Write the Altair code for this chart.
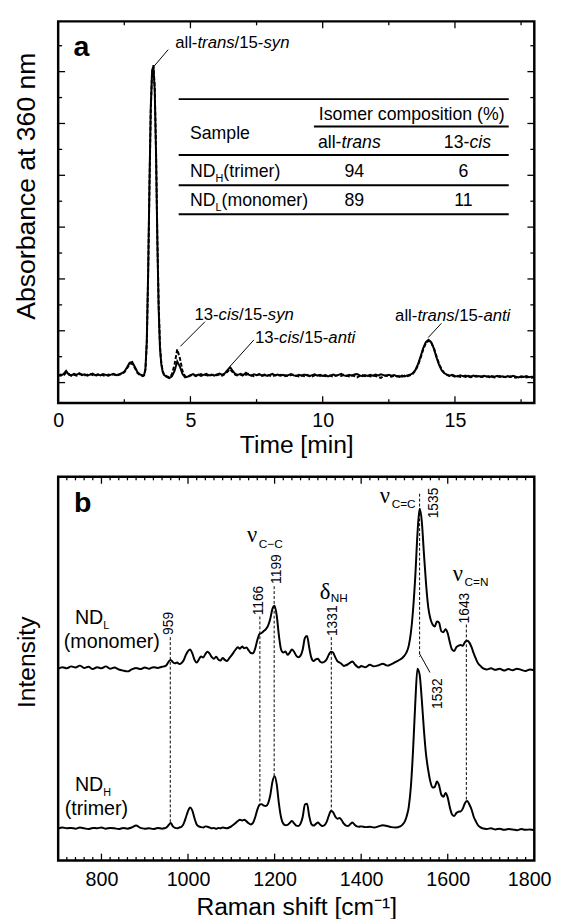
import altair as alt
import pandas as pd

SANS = "Liberation Sans, Arial, Helvetica, sans-serif"
SERIF = "Liberation Serif, Times New Roman, serif"

# ---------------- panel a : HPLC chromatograms ----------------
time_min = [
    0.0, 0.1, 0.2, 0.3, 0.4, 0.5, 0.6, 0.7, 0.8, 0.9,
    1.0, 1.1, 1.2, 1.3, 1.4, 1.5, 1.6, 1.7, 1.8, 1.9,
    2.0, 2.1, 2.2, 2.3, 2.4, 2.5, 2.6, 2.7, 2.8, 2.9,
    3.0, 3.1, 3.2,
    3.25, 3.30, 3.35, 3.40, 3.45, 3.50, 3.55, 3.60, 3.65, 3.70,
    3.75, 3.80, 3.85, 3.90, 3.95, 4.00,
    4.1, 4.2, 4.3, 4.4, 4.5, 4.6, 4.7, 4.8, 4.9, 5.0,
    5.1, 5.2, 5.3, 5.4, 5.5, 5.6, 5.7, 5.8, 5.9, 6.0,
    6.1, 6.2, 6.3, 6.4, 6.5, 6.6, 6.7, 6.8, 6.9, 7.0,
    7.1, 7.2, 7.3, 7.4, 7.5, 7.6, 7.7, 7.8, 7.9, 8.0,
    8.1, 8.2, 8.3, 8.4, 8.5, 8.6, 8.7, 8.8, 8.9, 9.0,
    9.1, 9.2, 9.3, 9.4, 9.5, 9.6, 9.7, 9.8, 9.9, 10.0,
    10.1, 10.2, 10.3, 10.4, 10.5, 10.6, 10.7, 10.8, 10.9, 11.0,
    11.1, 11.2, 11.3, 11.4, 11.5, 11.6, 11.7, 11.8, 11.9, 12.0,
    12.1, 12.2, 12.3, 12.4, 12.5, 12.6, 12.7, 12.8, 12.9, 13.0,
    13.1, 13.2, 13.3, 13.4, 13.5, 13.6, 13.7, 13.8, 13.9, 14.0,
    14.1, 14.2, 14.3, 14.4, 14.5, 14.6, 14.7, 14.8, 14.9, 15.0,
    15.1, 15.2, 15.3, 15.4, 15.5, 15.6, 15.7, 15.8, 15.9, 16.0,
    16.1, 16.2, 16.3, 16.4, 16.5, 16.6, 16.7, 16.8, 16.9, 17.0,
    17.1, 17.2, 17.3, 17.4, 17.5, 17.6, 17.7, 17.8, 17.9, 18.0,
]
abs_trimer = [
    0.30, 0.27, 0.33, 0.45, 0.31, 0.28, 0.34, 0.30, 0.36, 0.29,
    0.32, 0.27, 0.31, 0.35, 0.29, 0.32, 0.28, 0.33, 0.30, 0.27,
    0.31, 0.34, 0.29, 0.32, 0.36, 0.42, 0.58, 0.76, 0.80, 0.60,
    0.40, 0.31, 0.28,
    0.30, 0.55, 1.60, 4.20, 7.60, 10.60, 12.00, 12.20, 11.30, 8.80,
    5.40, 2.80, 1.30, 0.70, 0.42, 0.30,
    0.22, 0.17, 0.24, 0.45, 0.82, 0.62, 0.33, 0.20, 0.23, 0.29,
    0.33, 0.27, 0.31, 0.26, 0.30, 0.34, 0.28, 0.31, 0.27, 0.32,
    0.35, 0.30, 0.36, 0.48, 0.60, 0.45, 0.33, 0.30, 0.34, 0.29,
    0.38, 0.31, 0.27, 0.32, 0.29, 0.33, 0.28, 0.31, 0.26, 0.30,
    0.34, 0.28, 0.31, 0.27, 0.30, 0.25, 0.29, 0.33, 0.28, 0.26,
    0.30, 0.27, 0.31, 0.28, 0.25, 0.29, 0.32, 0.27, 0.30, 0.26,
    0.29, 0.24, 0.28, 0.31, 0.27, 0.30, 0.34, 0.28, 0.26, 0.30,
    0.27, 0.31, 0.33, 0.28, 0.25, 0.29, 0.26, 0.30, 0.27, 0.31,
    0.28, 0.32, 0.29, 0.26, 0.30, 0.27, 0.29, 0.25, 0.22, 0.27,
    0.24, 0.28, 0.30, 0.36, 0.48, 0.70, 1.00, 1.33, 1.56, 1.65,
    1.56, 1.32, 0.98, 0.68, 0.47, 0.36, 0.31, 0.27, 0.30, 0.26,
    0.24, 0.28, 0.25, 0.22, 0.26, 0.24, 0.27, 0.23, 0.25, 0.22,
    0.26, 0.24, 0.21, 0.25, 0.23, 0.26, 0.22, 0.24, 0.21, 0.25,
    0.22, 0.26, 0.23, 0.20, 0.24, 0.22, 0.25, 0.21, 0.23, 0.22,
]
abs_monomer = [
    0.26, 0.31, 0.28, 0.38, 0.34, 0.26, 0.30, 0.27, 0.33, 0.31,
    0.28, 0.30, 0.34, 0.29, 0.26, 0.30, 0.33, 0.28, 0.25, 0.31,
    0.29, 0.32, 0.27, 0.30, 0.33, 0.40, 0.55, 0.70, 0.74, 0.56,
    0.37, 0.28, 0.25,
    0.28, 0.50, 1.50, 4.00, 7.40, 10.50, 12.00, 12.25, 11.40, 8.90,
    5.60, 3.00, 1.40, 0.75, 0.45, 0.32,
    0.25, 0.20, 0.32, 0.70, 1.28, 0.95, 0.45, 0.24, 0.22, 0.27,
    0.30, 0.25, 0.29, 0.33, 0.27, 0.30, 0.25, 0.29, 0.31, 0.28,
    0.31, 0.27, 0.33, 0.42, 0.52, 0.40, 0.30, 0.27, 0.31, 0.26,
    0.30, 0.34, 0.28, 0.25, 0.29, 0.31, 0.26, 0.28, 0.30, 0.27,
    0.24, 0.29, 0.26, 0.30, 0.27, 0.28, 0.25, 0.29, 0.31, 0.27,
    0.24, 0.28, 0.25, 0.30, 0.27, 0.24, 0.28, 0.30, 0.26, 0.28,
    0.25, 0.29, 0.26, 0.23, 0.27, 0.29, 0.26, 0.30, 0.27, 0.24,
    0.28, 0.25, 0.20, 0.26, 0.29, 0.25, 0.28, 0.24, 0.27, 0.25,
    0.22, 0.18, 0.25, 0.28, 0.25, 0.23, 0.27, 0.24, 0.26, 0.23,
    0.27, 0.25, 0.28, 0.33, 0.45, 0.66, 0.95, 1.28, 1.52, 1.62,
    1.55, 1.34, 1.02, 0.72, 0.50, 0.37, 0.30, 0.25, 0.27, 0.23,
    0.26, 0.22, 0.24, 0.27, 0.23, 0.21, 0.24, 0.26, 0.22, 0.24,
    0.21, 0.23, 0.25, 0.22, 0.20, 0.23, 0.25, 0.21, 0.23, 0.20,
    0.24, 0.21, 0.19, 0.23, 0.21, 0.24, 0.20, 0.22, 0.19, 0.21,
]

a_xticks_major = [0, 5, 10, 15]
a_xticks_minor = [2.5, 7.5, 12.5, 17.5]
a_yticks_major = [0, 2, 4, 6, 8, 10, 12]
a_yticks_minor = [1, 3, 5, 7, 9, 11, 13]

# peak annotations (time, absorbance units)
a_leader_x1 = [3.60, 4.62, 6.51, 13.99]
a_leader_y1 = [12.18, 1.40, 0.64, 1.74]
a_leader_x2 = [4.16, 5.55, 7.40, 14.49]
a_leader_y2 = [12.85, 2.35, 1.65, 2.29]

# inset table
table_line_y = [10.94, 9.88, 8.78, 7.62, 6.50]
table_line_x1 = [4.556, 9.669, 4.556, 4.556, 4.556]
table_line_x2 = [17.033, 17.033, 17.033, 17.033, 17.033]
table_all_trans = ["94", "89"]
table_13_cis = ["6", "11"]
table_row_y = [7.92, 6.80]

# ---------------- panel b : Raman spectra ----------------
raman_shift = (list(range(700, 950, 10)) + list(range(945, 1405, 5)) +
               list(range(1410, 1495, 10)) + list(range(1495, 1685, 5)) +
               list(range(1690, 1805, 10)))
raman_monomer = [
    50.0, 50.4, 50.1, 50.6, 50.3, 50.8, 50.2, 50.5, 49.9, 50.4,
    50.1, 50.6, 50.0, 50.3, 49.8, 49.5, 49.3, 49.8, 50.2, 49.9,
    50.3, 50.0, 50.4, 50.2, 50.5,
    50.6, 50.9, 51.8, 52.3, 51.7, 51.4, 51.6, 51.2, 51.5, 52.2,
    53.6, 54.6, 55.0, 54.0, 52.3, 51.6, 52.4, 53.2, 52.9, 53.8,
    54.4, 53.9, 53.0, 52.6, 53.1, 52.4, 52.1, 52.8, 52.3, 52.0,
    52.7, 53.4, 54.2, 55.0, 55.6, 55.2, 55.8, 55.3, 55.5, 54.8,
    54.1, 54.0, 55.2, 57.4, 59.0, 59.3, 59.8, 60.3, 61.2, 63.0,
    65.6, 66.4, 63.8, 58.6, 55.0, 54.2, 54.5, 53.6, 54.2, 55.0,
    54.4, 53.4, 53.0, 53.4, 55.0, 58.0, 58.5, 55.5, 52.8, 52.0,
    52.4, 52.6, 51.9, 51.6, 51.8, 52.4, 53.6, 54.4, 54.2, 53.0,
    52.0, 51.6, 51.2, 50.7, 50.9, 51.2, 51.6, 51.9, 51.2, 50.6,
    50.3, 50.7,
    50.4, 51.0, 50.6, 50.9, 51.3, 50.8, 51.2, 51.8, 52.4,
    52.8, 53.4, 54.3, 56.0, 59.5, 65.5, 74.0, 85.0, 91.7, 88.5,
    80.0, 72.0, 66.0, 63.0, 61.5, 61.0, 62.3, 62.0, 59.8, 59.5,
    60.3, 59.2, 56.8, 55.0, 54.6, 55.6, 56.0, 56.2, 56.0, 57.0,
    57.3, 56.8, 55.6, 54.0, 52.6, 51.4, 50.8, 50.2,
    49.8, 50.1, 49.7, 50.0, 49.5, 49.9, 49.6, 50.0, 49.7, 49.4, 49.8, 49.6,
]
raman_trimer = [
    8.3, 8.6, 8.4, 8.5, 8.3, 8.6, 8.4, 8.2, 8.5, 8.4,
    8.6, 8.3, 8.5, 8.4, 8.2, 8.5, 8.3, 8.6, 9.1, 8.5,
    8.3, 8.4, 8.2, 8.5, 8.3,
    8.4, 8.6, 9.2, 9.8, 8.9, 8.5, 8.4, 8.6, 8.8, 9.6,
    11.2, 12.9, 13.8, 13.0, 11.0, 9.4, 8.9, 8.7, 8.6, 8.9,
    8.8, 8.6, 8.4, 8.5, 8.3, 8.5, 8.4, 8.6, 8.5, 8.4,
    8.6, 8.9, 9.3, 9.8, 10.3, 10.6, 10.4, 10.6, 10.2, 9.7,
    9.4, 9.8, 11.2, 13.2, 14.5, 14.7, 14.3, 14.2, 14.9, 17.0,
    20.5, 22.0, 19.8, 14.8, 11.2, 9.6, 9.2, 9.3, 9.8, 10.3,
    9.7, 9.1, 9.0, 9.6, 11.4, 14.6, 14.8, 11.6, 9.5, 9.1,
    9.5, 9.9, 9.4, 9.0, 9.2, 10.0, 11.6, 12.9, 12.6, 11.5,
    10.9, 11.1, 10.5, 9.6, 9.1, 9.0, 9.5, 9.9, 9.3, 8.9,
    8.8, 8.9,
    8.7, 8.8, 8.6, 8.9, 9.2, 9.0, 8.7, 8.6, 8.9,
    9.3, 10.0, 11.5, 14.0, 19.5, 29.0, 41.0, 50.0, 48.5, 42.0,
    34.0, 27.5, 23.5, 20.5, 19.0, 19.2, 20.6, 19.6, 17.2, 16.6,
    17.6, 16.4, 13.8, 12.0, 11.6, 12.4, 12.7, 12.8, 13.6, 15.0,
    15.5, 14.6, 13.3, 11.4, 10.2, 9.2, 8.7, 8.4,
    8.2, 8.4, 8.1, 8.3, 8.0, 8.2, 8.1, 7.9, 8.2, 8.0, 8.1, 7.9,
]
assert len(raman_shift) == len(raman_monomer) == len(raman_trimer)
assert len(time_min) == len(abs_trimer) == len(abs_monomer)

b_xticks_major = [800, 1000, 1200, 1400, 1600, 1800]
b_xticks_minor = [v for v in range(720, 1800, 20) if v % 200 != 0]

peak_pos = [959, 1166, 1199, 1331, 1535, 1643]
peak_text = ["959", "1166", "1199", "1331", "1535", "1643"]
peak_text_x = [957, 1164, 1205, 1336, 1568, 1641]
peak_text_y = [58.8, 63.9, 72.1, 58.5, 89.2, 61.8]
peak_dash_top = [58.2, 63.6, 71.5, 58.2, 95.6, 61.5]
peak_dash_bottom = [9.7, 14.8, 22.0, 13.0, 53.1, 15.5]
lower_peak_text = "1532"
lower_peak_text_x = 1577
lower_peak_text_y = 39.5
lower_leader = [1534, 54.1, 1559, 49.0]

WA, HA = 484, 388
WB, HB = 484, 390
xa = alt.Scale(domain=[0, 18], nice=False, zero=False)
ya = alt.Scale(domain=[-0.79, 13.94], nice=False, zero=False)
xb = alt.Scale(domain=[700, 1800], nice=False, zero=False)
yb = alt.Scale(domain=[0, 100], nice=False, zero=False)

AW = {" ": 278, "%": 889, "(": 333, ")": 333, "-": 333, "/": 278, "=": 584,
      "\u2212": 584, "C": 722, "D": 722, "H": 722, "I": 278, "L": 556,
      "N": 722, "S": 667, "a": 556, "c": 500, "e": 556, "i": 222, "l": 222,
      "m": 833, "n": 556, "o": 556, "p": 556, "r": 333, "s": 500, "t": 278,
      "y": 500}


def tw(s, size):
    return sum(AW.get(ch, 556) for ch in s) * size / 1000.0


def XQ(field, scale):
    return alt.X(field, type="quantitative", scale=scale)


def YQ(field, scale):
    return alt.Y(field, type="quantitative", scale=scale)


def rich(x, y, segs, xs, ys, size):
    """segs: list of (text, italic, size_or_None, dy)."""
    layers = []
    dx = 0.0
    for text, italic, sz, dy in segs:
        fs = sz or size
        df = pd.DataFrame({"x": [x], "y": [y], "t": [text]})
        layers.append(
            alt.Chart(df).mark_text(
                align="left", baseline="alphabetic", dx=dx, dy=dy,
                fontSize=fs, font=SANS, color="black",
                fontStyle="italic" if italic else "normal",
            ).encode(x=XQ("x", xs), y=YQ("y", ys), text="t:N"))
        dx += tw(text, fs)
    return layers


def xticks(vals, xs, H, length, top=False):
    y0, y1 = (0, length) if top else (H, H - length)
    return alt.Chart(pd.DataFrame({"x": vals})).mark_rule(
        color="black", strokeWidth=1.3).encode(
        x=XQ("x", xs), y=alt.value(y0), y2=alt.value(y1))


def yticks(vals, ys, W, length, right=False):
    x0, x1 = (W, W - length) if right else (0, length)
    return alt.Chart(pd.DataFrame({"y": vals})).mark_rule(
        color="black", strokeWidth=1.3).encode(
        y=YQ("y", ys), x=alt.value(x0), x2=alt.value(x1))


# ---------------- build panel a ----------------
axis_xa = alt.Axis(values=a_xticks_major, ticks=False, tickSize=0, domain=False,
                   grid=False, labelFontSize=20, labelPadding=8, labelFlush=False,
                   title="Time [min]", titleFontSize=25, titlePadding=2,
                   format="d")
axis_ya = alt.Axis(labels=False, ticks=False, tickSize=0, domain=False, grid=False,
                   title="Absorbance at 360 nm", titleFontSize=27, titlePadding=18,
                   titleY=167)

df_tri = pd.DataFrame({"t": time_min, "v": abs_trimer})
df_mono = pd.DataFrame({"t": time_min, "v": abs_monomer})

line_tri = alt.Chart(df_tri).mark_line(color="black", strokeWidth=2).encode(
    x=alt.X("t:Q", scale=xa, axis=axis_xa),
    y=alt.Y("v:Q", scale=ya, axis=axis_ya))
line_mono = alt.Chart(df_mono).mark_line(
    color="black", strokeWidth=2, strokeDash=[4, 2]).encode(
    x=XQ("t", xa), y=YQ("v", ya))

leaders_a = alt.Chart(pd.DataFrame({
    "x": a_leader_x1, "y": a_leader_y1, "x2": a_leader_x2, "y2": a_leader_y2})
).mark_rule(color="black", strokeWidth=1).encode(
    x=XQ("x", xa), y=YQ("y", ya), x2="x2:Q", y2="y2:Q")

table_lines = alt.Chart(pd.DataFrame({
    "x": table_line_x1, "x2": table_line_x2, "y": table_line_y})
).mark_rule(color="black", strokeWidth=2).encode(
    x=XQ("x", xa), x2="x2:Q", y=YQ("y", ya))

num_layers = []
for col_x, vals in ((11.194, table_all_trans), (15.322, table_13_cis)):
    num_layers.append(alt.Chart(pd.DataFrame({
        "x": [col_x] * len(vals), "y": table_row_y, "t": vals})).mark_text(
        align="center", baseline="alphabetic", fontSize=18, font=SANS,
        color="black").encode(x=XQ("x", xa), y=YQ("y", ya), text="t:N"))

text_a = []
text_a += rich(4.422, 12.90, [("all-", False, None, 0), ("trans", True, None, 0),
                              ("/15-", False, None, 0), ("syn", True, None, 0)], xa, ya, 17)
text_a += rich(5.151, 2.40, [("13-", False, None, 0), ("cis", True, None, 0),
                             ("/15-", False, None, 0), ("syn", True, None, 0)], xa, ya, 17)
text_a += rich(7.438, 1.51, [("13-", False, None, 0), ("cis", True, None, 0),
                             ("/15-", False, None, 0), ("anti", True, None, 0)], xa, ya, 17)
text_a += rich(12.737, 2.38, [("all-", False, None, 0), ("trans", True, None, 0),
                              ("/15-", False, None, 0), ("anti", True, None, 0)], xa, ya, 17)
text_a += rich(4.983, 9.40, [("Sample", False, None, 0)], xa, ya, 18)
text_a += rich(9.855, 10.12, [("Isomer composition (%)", False, None, 0)], xa, ya, 18)
text_a += rich(9.818, 9.06, [("all-", False, None, 0), ("trans", True, None, 0)], xa, ya, 18)
text_a += rich(14.578, 9.06, [("13-", False, None, 0), ("cis", True, None, 0)], xa, ya, 18)
text_a += rich(4.983, 7.92, [("ND", False, None, 0), ("H", False, 11, 4.5),
                             ("(trimer)", False, None, 0)], xa, ya, 18)
text_a += rich(4.983, 6.80, [("ND", False, None, 0), ("L", False, 11, 4.5),
                             ("(monomer)", False, None, 0)], xa, ya, 18)

label_a = alt.Chart(pd.DataFrame({"x": [0.584], "y": [12.61], "t": ["a"]})).mark_text(
    align="left", baseline="alphabetic", fontSize=29, fontWeight="bold", font=SANS,
    color="black").encode(x=XQ("x", xa), y=YQ("y", ya), text="t:N")

ticks_a = [
    xticks(a_xticks_major, xa, HA, 7), xticks(a_xticks_minor, xa, HA, 4),
    xticks(a_xticks_major, xa, HA, 7, top=True), xticks(a_xticks_minor, xa, HA, 4, top=True),
    yticks(a_yticks_major, ya, WA, 7), yticks(a_yticks_minor, ya, WA, 4),
    yticks(a_yticks_major, ya, WA, 7, right=True), yticks(a_yticks_minor, ya, WA, 4, right=True),
]

panel_a = alt.layer(line_tri, line_mono, leaders_a, table_lines, *num_layers,
                    *text_a, label_a, *ticks_a).properties(width=WA, height=HA)

# ---------------- build panel b ----------------
axis_xb = alt.Axis(values=b_xticks_major, ticks=False, tickSize=0, domain=False,
                   grid=False, labelFontSize=20, labelPadding=9.5, labelFlush=1,
                   labelFlushOffset=17, title="Raman shift [cm\u207b\u00b9]",
                   titleFontSize=25, titlePadding=5, format="d")
axis_yb = alt.Axis(labels=False, ticks=False, tickSize=0, domain=False, grid=False,
                   title="Intensity", titleFontSize=25, titlePadding=19, titleY=188)

df_bm = pd.DataFrame({"w": raman_shift, "v": raman_monomer})
df_bt = pd.DataFrame({"w": raman_shift, "v": raman_trimer})
spec_m = alt.Chart(df_bm).mark_line(color="black", strokeWidth=2,
                                    interpolate="monotone").encode(
    x=alt.X("w:Q", scale=xb, axis=axis_xb), y=alt.Y("v:Q", scale=yb, axis=axis_yb))
spec_t = alt.Chart(df_bt).mark_line(color="black", strokeWidth=2,
                                    interpolate="monotone").encode(
    x=XQ("w", xb), y=YQ("v", yb))

dashes = alt.Chart(pd.DataFrame({"x": peak_pos, "y": peak_dash_top,
                                 "y2": peak_dash_bottom})).mark_rule(
    color="black", strokeWidth=1, strokeDash=[3, 2]).encode(
    x=XQ("x", xb), y=YQ("y", yb), y2="y2:Q")

peak_labels = alt.Chart(pd.DataFrame({
    "x": peak_text_x + [lower_peak_text_x], "y": peak_text_y + [lower_peak_text_y],
    "t": peak_text + [lower_peak_text]})).mark_text(
    angle=270, align="left", baseline="middle", fontSize=14, font=SANS,
    color="black").encode(x=XQ("x", xb), y=YQ("y", yb), text="t:N")

leader_b = alt.Chart(pd.DataFrame({
    "x": [lower_leader[0]], "y": [lower_leader[1]],
    "x2": [lower_leader[2]], "y2": [lower_leader[3]]})).mark_rule(
    color="black", strokeWidth=1).encode(
    x=XQ("x", xb), y=YQ("y", yb), x2="x2:Q", y2="y2:Q")

mode_greek = ["\u03bd", "\u03b4", "\u03bd", "\u03bd"]
mode_sub = ["C\u2212C", "NH", "C=C", "C=N"]
mode_x = [1136.4, 1304.5, 1443.2, 1611.4]
mode_y = [83.08, 68.2, 93.08, 72.8]
mode_sub_dx = [12, 11, 12, 12]
mode_sub_dy = [6, 3.5, 5, 5]

mode_layers = []
for g, s, mx, my, sdx, sdy in zip(mode_greek, mode_sub, mode_x, mode_y,
                                  mode_sub_dx, mode_sub_dy):
    dfm = pd.DataFrame({"x": [mx], "y": [my], "g": [g], "s": [s]})
    mode_layers.append(alt.Chart(dfm).mark_text(
        align="left", baseline="alphabetic", fontSize=23, font=SERIF,
        color="black").encode(x=XQ("x", xb), y=YQ("y", yb), text="g:N"))
    mode_layers.append(alt.Chart(dfm).mark_text(
        align="left", baseline="alphabetic", fontSize=12, font=SANS, dx=sdx, dy=sdy,
        color="black").encode(x=XQ("x", xb), y=YQ("y", yb), text="s:N"))

text_b = []
text_b += rich(738.6, 61.6, [("ND", False, None, 0), ("L", False, 11, 4.5)], xb, yb, 20)
text_b += rich(713.0, 55.4, [("(monomer)", False, None, 0)], xb, yb, 20)
text_b += rich(738.6, 18.1, [("ND", False, None, 0), ("H", False, 11, 4.5)], xb, yb, 20)
text_b += rich(715.2, 11.8, [("(trimer)", False, None, 0)], xb, yb, 20)

label_b = alt.Chart(pd.DataFrame({"x": [736.4], "y": [90.8], "t": ["b"]})).mark_text(
    align="left", baseline="alphabetic", fontSize=29, fontWeight="bold", font=SANS,
    color="black").encode(x=XQ("x", xb), y=YQ("y", yb), text="t:N")

ticks_b = [
    xticks(b_xticks_major, xb, HB, 7), xticks(b_xticks_minor, xb, HB, 3.5),
    xticks(b_xticks_major, xb, HB, 7, top=True), xticks(b_xticks_minor, xb, HB, 3.5, top=True),
]

panel_b = alt.layer(spec_m, spec_t, dashes, leader_b, peak_labels, *mode_layers,
                    *text_b, label_b, *ticks_b).properties(width=WB, height=HB)

chart = alt.vconcat(panel_a, panel_b, spacing=16).properties(
    padding={"left": 3, "top": 4, "right": 0, "bottom": 0}
).configure_view(stroke="black", strokeWidth=2.5).configure_axis(
    labelFont=SANS, titleFont=SANS, labelColor="black", titleColor="black",
    titleFontWeight="normal", grid=False)

chart.save("out.html", embed_options={"renderer": "svg", "actions": False})
